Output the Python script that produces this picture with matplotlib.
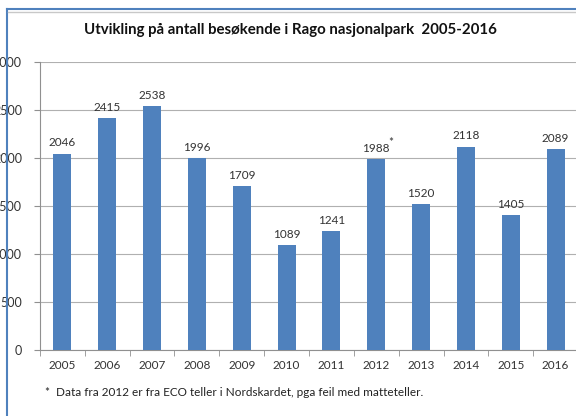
import numpy as np
import matplotlib
matplotlib.use("Agg")
import matplotlib.pyplot as plt
from matplotlib.lines import Line2D

plt.rcParams['font.family'] = ['Lato', 'DejaVu Sans']

years = ["2005", "2006", "2007", "2008", "2009", "2010",
         "2011", "2012", "2013", "2014", "2015", "2016"]
visitors = [2046, 2415, 2538, 1996, 1709, 1089, 1241, 1988, 1520, 2118, 1405, 2089]
yticks = [0, 500, 1000, 1500, 2000, 2500, 3000]
title = "Utvikling på antall besøkende i Rago nasjonalpark  2005-2016"
note = "*  Data fra 2012 er fra ECO teller i Nordskardet, pga feil med matteteller."

fig = plt.figure(figsize=(5.76, 4.16), dpi=100)
ax = fig.add_axes([40/576, 1 - 350/416, 538/576, 288/416])

x = np.arange(len(years))
ax.bar(x, visitors, width=0.4, color="#4F81BD", zorder=3)
for xi, v in zip(x, visitors):
    ax.text(xi, v + 55, str(v), ha="center", va="bottom", fontsize=8.5, color="#333333")
# star next to 2012 label
i12 = years.index("2012")
ax.text(x[i12] + 0.33, visitors[i12] + 120, "*", ha="center", va="bottom", fontsize=8.5, color="#333333")

ax.set_xlim(-0.5, len(years) - 0.5)
ax.set_ylim(0, 3000)
ax.set_yticks(yticks)
ax.set_yticklabels([str(t) for t in yticks], fontsize=9, color="#333333")
ax.yaxis.grid(True, color="#B0B0B0", linewidth=0.8, zorder=0)
ax.tick_params(axis="y", length=4, color="#909090", pad=9)

ax.set_xticks(x)
ax.set_xticklabels(years, fontsize=8.5, color="#333333")
ax.set_xticks(np.arange(-0.5, len(years), 1), minor=True)
ax.tick_params(axis="x", which="major", length=0, pad=7)
ax.tick_params(axis="x", which="minor", length=4, color="#909090")

for s in ["top", "right"]:
    ax.spines[s].set_visible(False)
ax.spines["left"].set_color("#909090")
ax.spines["bottom"].set_color("#909090")

fig.text(290/576, 1 - 30/416, title, ha="center", va="center", fontsize=10.8, fontweight="bold", color="#111111")
fig.text(45/576, 1 - 393/416, note, ha="left", va="center", fontsize=8.5, color="#222222")

# blue frame of the screenshot
fig.add_artist(Line2D([7/576, 7/576], [0, 1 - 9/416], color="#4F81BD", linewidth=1.5, transform=fig.transFigure))
fig.add_artist(Line2D([7/576, 1], [1 - 9/416, 1 - 9/416], color="#4F81BD", linewidth=1.5, transform=fig.transFigure))
fig.add_artist(Line2D([8/576, 1], [1 - 12/416, 1 - 12/416], color="#C8C8C8", linewidth=1.0, transform=fig.transFigure))

fig.savefig("out.png", dpi=100)
